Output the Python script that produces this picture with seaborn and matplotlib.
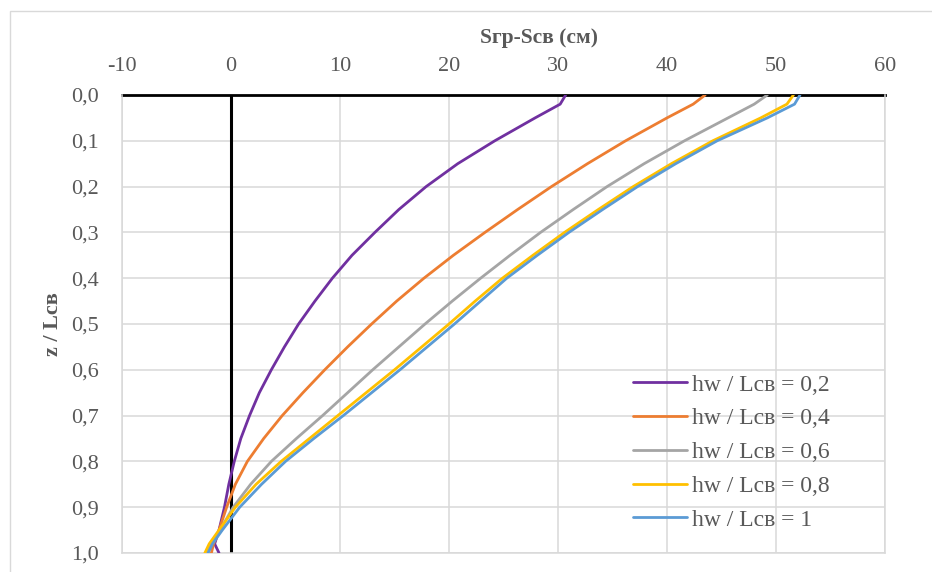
import numpy as np
import pandas as pd
import matplotlib
matplotlib.use("Agg")
import matplotlib.pyplot as plt
from matplotlib.patches import Rectangle
import seaborn as sns

# ---- data ----
z_levels = [0.0, 0.02, 0.05, 0.10, 0.15, 0.20, 0.25, 0.30, 0.35, 0.40, 0.45, 0.50,
            0.55, 0.60, 0.65, 0.70, 0.75, 0.80, 0.85, 0.90, 0.95, 0.98, 1.0]
s_hw02 = [30.7, 30.2, 27.9, 24.2, 20.8, 17.9, 15.4, 13.2, 11.1, 9.3, 7.7, 6.2,
          4.9, 3.7, 2.6, 1.7, 0.9, 0.3, -0.2, -0.6, -1.1, -1.5, -1.1]
s_hw04 = [43.5, 42.4, 40.0, 36.2, 32.7, 29.4, 26.3, 23.3, 20.4, 17.7, 15.2, 12.9,
          10.7, 8.6, 6.6, 4.7, 3.0, 1.5, 0.4, -0.4, -1.1, -1.6, -1.8]
s_hw06 = [49.2, 48.0, 45.6, 41.6, 37.9, 34.5, 31.4, 28.4, 25.6, 22.9, 20.3, 17.8,
          15.4, 13.0, 10.7, 8.4, 6.0, 3.7, 1.8, 0.2, -1.0, -1.8, -2.2]
s_hw08 = [51.6, 51.0, 48.6, 44.2, 40.4, 36.9, 33.7, 30.6, 27.7, 24.9, 22.4, 20.0,
          17.5, 15.0, 12.4, 9.8, 7.2, 4.6, 2.3, 0.4, -1.1, -2.0, -2.4]
s_hw10 = [52.2, 51.7, 49.2, 44.6, 40.8, 37.3, 34.1, 31.0, 28.1, 25.3, 22.9, 20.5,
          18.0, 15.5, 12.9, 10.3, 7.6, 5.0, 2.8, 0.8, -0.8, -1.7, -2.1]

series_labels = ["hw / Lсв = 0,2", "hw / Lсв = 0,4", "hw / Lсв = 0,6",
                 "hw / Lсв = 0,8", "hw / Lсв = 1"]
series_values = [s_hw02, s_hw04, s_hw06, s_hw08, s_hw10]
colors = ["#7030A0", "#ED7D31", "#A5A5A5", "#FFC000", "#5B9BD5"]

x_ticks = [-10, 0, 10, 20, 30, 40, 50, 60]
y_ticks = [0.0, 0.1, 0.2, 0.3, 0.4, 0.5, 0.6, 0.7, 0.8, 0.9, 1.0]
y_tick_labels = ["0,0", "0,1", "0,2", "0,3", "0,4", "0,5", "0,6", "0,7", "0,8", "0,9", "1,0"]
x_title = "Sгр-Sсв (см)"
y_title = "z / Lсв"

rows = []
for lab, vals in zip(series_labels, series_values):
    for zv, sv in zip(z_levels, vals):
        rows.append({"S": sv, "z": zv, "series": lab})
df = pd.DataFrame(rows)

sns.set_theme(style="white")
plt.rcParams["font.family"] = ["Liberation Serif", "DejaVu Serif"]

W, H = 932, 572
fig = plt.figure(figsize=(W / 100, H / 100), dpi=100)
L, R, T, B = 122, 885, 95, 553
ax = fig.add_axes([L / W, 1 - B / H, (R - L) / W, (B - T) / H])

sns.lineplot(data=df, x="S", y="z", hue="series", palette=colors, sort=False,
             estimator=None, linewidth=2.0, ax=ax, zorder=3)
for ln in ax.get_lines():
    ln.set_solid_joinstyle("round")

ax.set_xlim(-10, 60)
ax.set_ylim(1.0, 0.0)
ax.xaxis.tick_top()
ax.xaxis.set_label_position("top")
ax.set_xticks(x_ticks)
ax.set_xticklabels([str(v) for v in x_ticks])
ax.set_yticks(y_ticks)
ax.set_yticklabels(y_tick_labels)
ax.tick_params(axis="both", length=0, labelsize=16, labelcolor="#595959")
ax.tick_params(axis="x", pad=14)
ax.tick_params(axis="y", pad=17)

ax.grid(True, color="#d9d9d9", linewidth=1.1)
ax.set_axisbelow(True)
for side in ["left", "right", "bottom"]:
    ax.spines[side].set_color("#d9d9d9")
    ax.spines[side].set_linewidth(1.1)
ax.spines["top"].set_color("black")
ax.spines["top"].set_linewidth(2.0)
ax.spines["top"].set_zorder(2)
ax.axvline(0, color="black", linewidth=2.2, zorder=2)

ax.set_xlabel(x_title, fontsize=15.5, fontweight="bold", color="#595959")
ax.set_ylabel(y_title, fontsize=16, fontweight="bold", color="#595959")
ax.xaxis.set_label_coords((539 - L) / (R - L), 1 + (T - 38) / (B - T))
ax.yaxis.set_label_coords((53 - L) / (R - L), 0.5)
ax.xaxis.label.set_va("center")
ax.yaxis.label.set_va("center")

leg = ax.legend(loc="upper left", bbox_to_anchor=(633 / W, 1 - 374 / H),
                bbox_transform=fig.transFigure, frameon=False, fontsize=17,
                handlelength=2.3, handletextpad=0.2, labelspacing=0.52,
                borderpad=0, borderaxespad=0)
for t in leg.get_texts():
    t.set_color("#595959")
for h in leg.legend_handles:
    h.set_linewidth(2.0)

fig.add_artist(Rectangle((10 / W, -0.1), 1.0, 1.1 - 10.5 / H, transform=fig.transFigure,
                         fill=False, edgecolor="#d9d9d9", linewidth=1.0))

fig.savefig("out.png", dpi=100)
